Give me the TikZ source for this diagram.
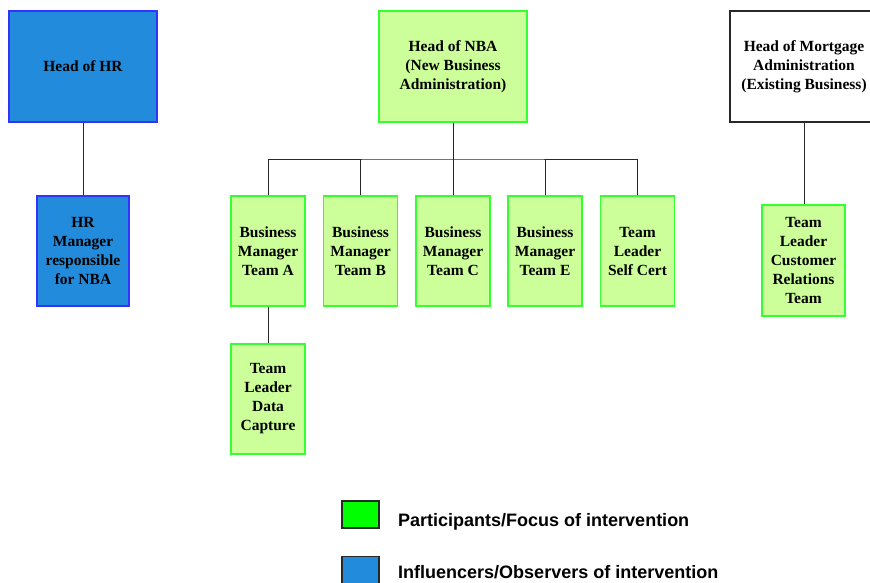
\documentclass[tikz,border=0pt]{standalone}
\usepackage{fontspec}
\setmainfont{Liberation Serif}
\newfontfamily\legendfont{Liberation Sans}
\definecolor{hrblue}{RGB}{34,139,219}
\definecolor{hredge}{RGB}{51,51,255}
\definecolor{nbagreen}{RGB}{204,255,153}
\definecolor{nbaedge}{RGB}{51,255,51}
\definecolor{keygreen}{RGB}{0,255,0}
\definecolor{linegray}{RGB}{40,40,40}
\begin{document}
\begin{tikzpicture}[x=1pt,y=-1pt,
  box/.style={rectangle,draw,line width=1.2pt,align=center,inner sep=0pt,
    font=\fontsize{15.5}{19}\selectfont\bfseries},
  influencer/.style={box,fill=hrblue,draw=hredge},
  participant/.style={box,fill=nbagreen,draw=nbaedge},
  neutral/.style={box,fill=white,draw=linegray},
  wide/.style={minimum width=148pt,minimum height=111pt},
  narrow/.style={minimum width=74pt,minimum height=110pt},
  link/.style={draw=linegray,line width=1pt},
  keybox/.style={rectangle,draw=linegray,line width=1.2pt,minimum width=37pt,minimum height=27pt},
  keytext/.style={anchor=base west,inner sep=0pt,font=\legendfont\fontsize{18}{21}\selectfont\bfseries}]
\useasboundingbox (0,0) rectangle (870,582);
\begin{scope}
\clip (0,0) rectangle (870,582);

% heads of department
\node[influencer,wide] (hrhead) at (83,66.5) {Head of HR};
\node[participant,wide] (nba) at (453,66.5) {Head of NBA\\(New Business\\Administration)};
\node[neutral,wide] (mort) at (804,66.5) {Head of Mortgage\\Administration\\(Existing Business)};

% reports
\node[influencer,minimum width=92pt,minimum height=110pt] (hrmgr) at (83,251) {HR\\Manager\\responsible\\for NBA};
\node[participant,narrow] (bma) at (268,251) {Business\\Manager\\Team A};
\node[participant,narrow] (bmb) at (360.5,251) {Business\\Manager\\Team B};
\node[participant,narrow] (bmc) at (453,251) {Business\\Manager\\Team C};
\node[participant,narrow] (bme) at (545,251) {Business\\Manager\\Team E};
\node[participant,narrow] (tlsc) at (637.5,251) {Team\\Leader\\Self Cert};
\node[participant,narrow] (tldc) at (268,399) {Team\\Leader\\Data\\Capture};
\node[participant,minimum width=83pt,minimum height=111pt] (tlcr) at (803.5,260.5) {Team\\Leader\\Customer\\Relations\\Team};

% connectors
\coordinate (bus) at (453,159);
\draw[link] (hrhead) -- (hrmgr);
\draw[link] (nba) -- (bmc);
\draw[link] (bma.north) |- (bus) -| (tlsc.north);
\draw[link] (bmb.north) -- (bmb.north |- bus);
\draw[link] (bme.north) -- (bme.north |- bus);
\draw[link] (bma) -- (tldc);
\draw[link] (mort.south) -- (mort.south |- tlcr.north);

% key
\node[keybox,fill=keygreen] (keyp) at (360.5,514.5) {};
\node[keybox,fill=hrblue] (keyi) at (360.5,570) {};
\node[keytext] (keyptext) at (398,526.5) {Participants/Focus of intervention};
\node[keytext] (keyitext) at (398,578.5) {Influencers/Observers of intervention};
\end{scope}
\end{tikzpicture}
\end{document}
